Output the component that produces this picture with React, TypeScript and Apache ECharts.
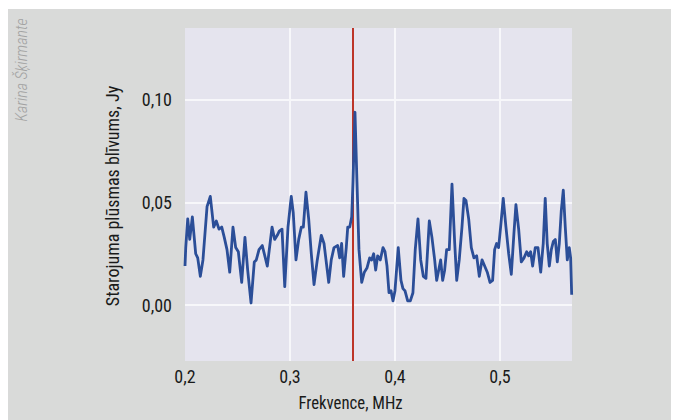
import React, { useEffect, useRef } from "react";
import * as echarts from "echarts";

// Frequency (MHz) and flux density (Jy)
const freqs = [
  0.2000, 0.2007, 0.2026, 0.2045, 0.2070, 0.2102, 0.2121, 0.2146, 0.2171, 0.2210,
  0.2241, 0.2273, 0.2298, 0.2324, 0.2350, 0.2374, 0.2400, 0.2426, 0.2457, 0.2483,
  0.2508, 0.2540, 0.2571, 0.2597, 0.2629, 0.2660, 0.2679, 0.2705, 0.2736,
  0.2784, 0.2829, 0.2854, 0.2879, 0.2898, 0.2924, 0.2950, 0.2981, 0.3012, 0.3031,
  0.3057, 0.3083, 0.3108, 0.3127, 0.3152, 0.3178, 0.3203, 0.3229, 0.3260, 0.3298,
  0.3324, 0.3343, 0.3369, 0.3393, 0.3419,
  0.3454, 0.3473, 0.3492, 0.3511, 0.3536, 0.3550, 0.3569, 0.3588, 0.3600, 0.3619,
  0.3638, 0.3657, 0.3683, 0.3708, 0.3733, 0.3759, 0.3778, 0.3797, 0.3816, 0.3835,
  0.3860, 0.3886, 0.3905, 0.3924, 0.3943, 0.3962, 0.3981, 0.4000, 0.4031, 0.4057,
  0.4076, 0.4095, 0.4121, 0.4146, 0.4171,
  0.4193, 0.4219, 0.4245, 0.4270, 0.4295, 0.4327, 0.4352, 0.4378, 0.4397, 0.4416,
  0.4435, 0.4454, 0.4473, 0.4492, 0.4517, 0.4543, 0.4569, 0.4588, 0.4612, 0.4638,
  0.4657, 0.4676, 0.4702, 0.4727, 0.4752, 0.4778, 0.4803, 0.4829, 0.4854, 0.4879,
  0.4905,
  0.4930, 0.4949, 0.4968, 0.4987, 0.5006, 0.5031, 0.5057, 0.5083, 0.5108, 0.5133,
  0.5152, 0.5178, 0.5203, 0.5229, 0.5254, 0.5273, 0.5292, 0.5311, 0.5336, 0.5362,
  0.5388, 0.5412, 0.5431, 0.5450, 0.5470, 0.5489, 0.5508, 0.5527, 0.5546, 0.5565,
  0.5584, 0.5603, 0.5622, 0.5641, 0.5660, 0.5673, 0.5683,
];

const flux = [
  0.019, 0.028, 0.042, 0.032, 0.043, 0.025, 0.023, 0.014, 0.022, 0.048,
  0.053, 0.038, 0.041, 0.037, 0.038, 0.033, 0.027, 0.016, 0.038, 0.028,
  0.026, 0.011, 0.033, 0.017, 0.001, 0.021, 0.022, 0.027, 0.029,
  0.019, 0.038, 0.032, 0.034, 0.036, 0.037, 0.009, 0.038, 0.053, 0.045,
  0.022, 0.032, 0.038, 0.038, 0.055, 0.042, 0.025, 0.010, 0.022, 0.034,
  0.030, 0.022, 0.011, 0.022, 0.028,
  0.029, 0.023, 0.030, 0.014, 0.028, 0.038, 0.038, 0.043, 0.060, 0.094,
  0.060, 0.027, 0.011, 0.016, 0.018, 0.023, 0.022, 0.025, 0.017, 0.024,
  0.022, 0.028, 0.026, 0.019, 0.006, 0.007, 0.002, 0.007, 0.028, 0.012,
  0.008, 0.007, 0.002, 0.002, 0.006,
  0.027, 0.042, 0.022, 0.014, 0.013, 0.041, 0.033, 0.022, 0.012, 0.017,
  0.022, 0.012, 0.017, 0.027, 0.027, 0.059, 0.030, 0.012, 0.022, 0.038,
  0.052, 0.051, 0.042, 0.028, 0.023, 0.024, 0.014, 0.022, 0.019, 0.016,
  0.011,
  0.012, 0.027, 0.030, 0.028, 0.038, 0.052, 0.038, 0.025, 0.015, 0.035,
  0.049, 0.037, 0.021, 0.023, 0.026, 0.024, 0.026, 0.019, 0.028, 0.028,
  0.016, 0.030, 0.052, 0.030, 0.019, 0.027, 0.031, 0.032, 0.021, 0.030,
  0.046, 0.056, 0.038, 0.022, 0.028, 0.023, 0.005,
];

const markerFreq = 0.3578;
const xTicks = [0.2, 0.3, 0.4, 0.5];
const yTicks = [0.0, 0.05, 0.1];

const xAxisTitle = "Frekvence, MHz";
const yAxisTitle = "Starojuma plūsmas blīvums, Jy";
const author = "Karina Šķirmante";

const FONT = '"Roboto Condensed", "Liberation Sans Narrow", "DejaVu Sans Condensed", "Roboto", sans-serif';

export default function App() {
  const ref = useRef<HTMLDivElement>(null);

  useEffect(() => {
    if (!ref.current) return;
    const chart = echarts.init(ref.current, null, { renderer: "svg" });
    const data = freqs.map((f, i) => [f, flux[i]]);

    chart.setOption({
      animation: false,
      backgroundColor: "#d9dad9",
      grid: {
        left: 178,
        top: 19,
        width: 387,
        height: 333,
        show: true,
        backgroundColor: "#e5e4ee",
        borderWidth: 0,
      },
      xAxis: {
        type: "value",
        min: 0.2,
        max: 0.5686,
        interval: 0.1,
        axisLine: { show: false },
        axisTick: { show: false },
        axisLabel: {
          show: true,
          margin: 6,
          color: "#1a1a1a",
          fontFamily: FONT,
          fontSize: 18,
          showMaxLabel: false,
          formatter: (v: number) =>
            xTicks.some((t) => Math.abs(t - v) < 1e-6) ? v.toFixed(1).replace(".", ",") : "",
        },
        splitLine: {
          show: true,
          showMaxLine: false,
          showMinLine: false,
          lineStyle: { color: "#f7f7fa", width: 2 },
        },
      },
      yAxis: {
        type: "value",
        min: -0.0273,
        max: 0.1351,
        splitNumber: 3,
        axisLine: { show: false },
        axisTick: { show: false },
        axisLabel: {
          margin: 13,
          color: "#1a1a1a",
          fontFamily: FONT,
          fontSize: 18,
          showMinLabel: false,
          showMaxLabel: false,
          formatter: (v: number) =>
            yTicks.some((t) => Math.abs(t - v) < 1e-6) ? v.toFixed(2).replace(".", ",") : "",
        },
        splitLine: {
          show: true,
          showMinLine: false,
          showMaxLine: false,
          lineStyle: { color: "#f7f7fa", width: 2 },
        },
      },
      series: [
        {
          type: "line",
          data,
          showSymbol: false,
          symbol: "none",
          lineStyle: { color: "#2b4e98", width: 2.8, join: "round" },
          z: 3,
          markLine: {
            silent: true,
            symbol: "none",
            label: { show: false },
            lineStyle: { color: "#bd3529", width: 2, type: "solid" },
            data: [{ xAxis: markerFreq }],
            z: 2,
          },
        },
      ],
      graphic: [
        {
          type: "text",
          x: 343.5,
          y: 394,
          scaleX: 0.93,
          style: {
            text: xAxisTitle,
            fill: "#1a1a1a",
            font: `18px ${FONT}`,
            align: "center",
            verticalAlign: "middle",
          },
        },
        {
          type: "text",
          x: 105,
          y: 187,
          rotation: Math.PI / 2,
          style: {
            text: yAxisTitle,
            fill: "#1a1a1a",
            font: `18px ${FONT}`,
            align: "center",
            verticalAlign: "middle",
          },
        },
        {
          type: "text",
          x: 14,
          y: 61,
          rotation: Math.PI / 2,
          style: {
            text: author,
            fill: "#a2a2a2",
            font: `italic 300 16px ${FONT}`,
            align: "center",
            verticalAlign: "middle",
          },
        },
      ],
    });
    return () => chart.dispose();
  }, []);

  return (
    <div
      ref={ref}
      style={{ width: 672, height: 411, marginLeft: -1, marginTop: 1 }}
    />
  );
}
